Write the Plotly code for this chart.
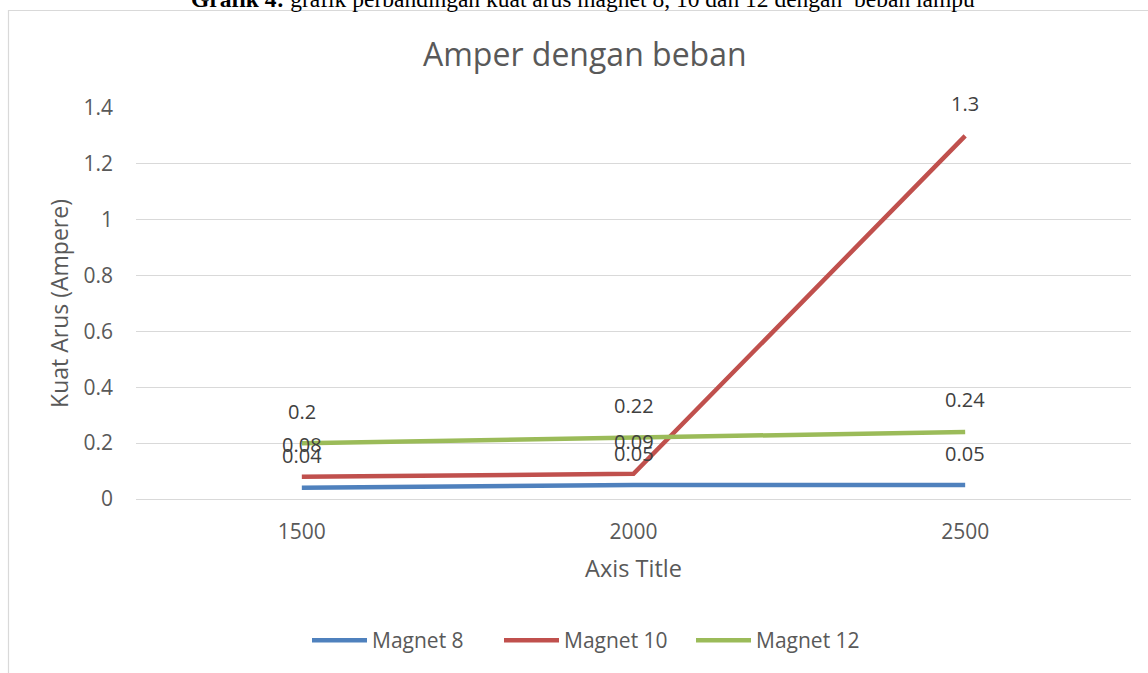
import plotly.graph_objects as go

categories = ["1500", "2000", "2500"]
magnet8 = [0.04, 0.05, 0.05]
magnet10 = [0.08, 0.09, 1.3]
magnet12 = [0.2, 0.22, 0.24]
series_names = ["Magnet 8", "Magnet 10", "Magnet 12"]
colors = ["#4f81bd", "#c0504d", "#9bbb59"]
y_ticks = [0, 0.2, 0.4, 0.6, 0.8, 1, 1.2, 1.4]

W, H = 1148, 673
ML, MR, MT, MB = 136, 17, 108, 170
PW, PH = W - ML - MR, H - MT - MB

def px_x(px):
    return (px - ML) / PW

def px_y(py):
    return (H - MB - py) / PH

FONT = "Open Sans"
TXT = "#595959"

fig = go.Figure()
annotations = []
for name, vals, col in zip(series_names, [magnet8, magnet10, magnet12], colors):
    fig.add_trace(go.Scatter(
        x=categories, y=vals, mode="lines", name=name,
        line=dict(color=col, width=4.5),
    ))
    for i, v in enumerate(vals):
        annotations.append(dict(
            x=i, y=v, xref="x", yref="y", text=f"{v:g}", showarrow=False,
            yshift=32, font=dict(family=FONT, size=20, color="#404040"),
        ))

annotations.append(dict(
    x=px_x(585), y=px_y(53), xref="paper", yref="paper",
    xanchor="center", yanchor="middle",
    text="Amper dengan beban", showarrow=False,
    font=dict(family=FONT, size=32, color=TXT),
))
annotations.append(dict(
    x=px_x(583), y=px_y(-2), xref="paper", yref="paper",
    xanchor="center", yanchor="middle",
    text="<b>Grafik 4:</b> grafik perbandingan kuat arus magnet 8, 10 dan 12 dengan  beban lampu",
    showarrow=False,
    font=dict(family="Liberation Serif", size=23.5, color="#000000"),
))

fig.update_layout(
    width=W, height=H,
    margin=dict(l=ML, r=MR, t=MT, b=MB, pad=0),
    paper_bgcolor="white", plot_bgcolor="white",
    showlegend=True,
    legend=dict(
        orientation="h", x=px_x(595), xanchor="center",
        y=px_y(646), yanchor="middle",
        font=dict(family=FONT, size=21, color=TXT),
        itemwidth=55, entrywidth=122,
    ),
    annotations=annotations,
    shapes=[dict(
        type="rect", xref="paper", yref="paper",
        x0=px_x(8.5), x1=px_x(1160), y0=px_y(690), y1=px_y(9.5),
        line=dict(color="#d9d9d9", width=1.2), fillcolor="rgba(0,0,0,0)",
        layer="below",
    )],
    xaxis=dict(
        type="category", range=[-0.5, 2.5],
        showgrid=False, showline=False, zeroline=False, ticks="",
        tickfont=dict(family=FONT, size=21, color=TXT),
        ticklabelstandoff=18,
        title=dict(text="Axis Title", font=dict(family=FONT, size=23.5, color=TXT), standoff=16),
    ),
    yaxis=dict(
        range=[0, 1.4], tickvals=y_ticks,
        ticktext=[f"{v:g}" for v in y_ticks],
        showgrid=True, gridcolor="#d9d9d9", gridwidth=1.3,
        zeroline=True, zerolinecolor="#d9d9d9", zerolinewidth=1.3,
        showline=False, ticks="",
        tickfont=dict(family=FONT, size=21, color=TXT),
        ticklabelstandoff=22,
        title=dict(text="Kuat Arus (Ampere)", font=dict(family=FONT, size=23, color=TXT), standoff=8),
    ),
)

fig.write_html(
    "out.html",
    config={"displayModeBar": False},
    post_script="document.body.style.margin='0';document.body.style.padding='0';",
)
